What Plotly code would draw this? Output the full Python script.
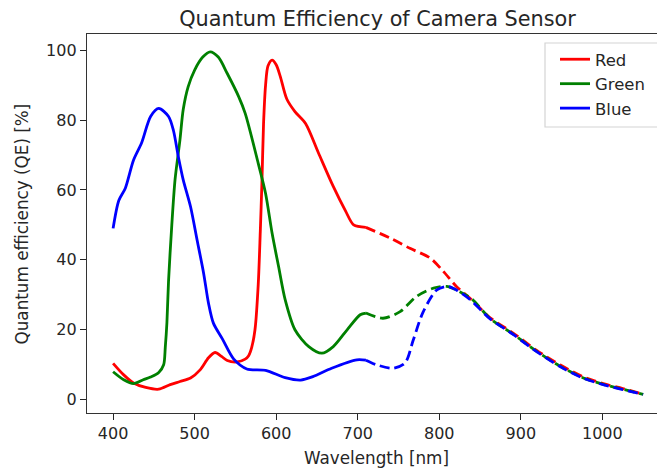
import plotly.graph_objects as go

# ---- data ----
red_wl = [400, 413, 425, 440, 456, 470, 482, 495, 507, 517, 525, 533, 540, 552, 562, 566, 570, 574,
          578, 580.5, 582.5, 584.5, 587, 590, 595, 600, 605, 613, 623, 636, 652, 670, 685, 695, 710,
          740, 764, 789, 805, 821, 842, 862, 891, 919, 948, 976, 1001, 1025, 1050]
red_qe = [10.4, 7.1, 4.8, 3.5, 3.0, 4.3, 5.2, 6.2, 8.6, 12.0, 13.5, 12.4, 11.2, 10.8, 11.6, 12.5, 15, 20,
          33, 48, 62, 79, 90, 95.5, 97.1, 95.8, 92.5, 86, 82.4, 79, 70.5, 61, 54, 50, 49.3,
          46.2, 43.3, 40.5, 36.7, 32.4, 28.1, 23.5, 19.0, 14.2, 10.0, 6.6, 4.6, 3.2, 1.6]

green_wl = [400, 413, 425, 437, 446, 456, 462, 464, 466, 468, 472, 476, 482, 486, 492, 500, 510, 519,
            529, 540, 554, 562, 578, 587, 595, 603, 611, 623, 640, 656, 670, 687, 703, 710,
            731, 752, 772, 793, 809, 825, 840, 862, 891, 919, 948, 976, 1001, 1025, 1050]
green_qe = [8, 5.7, 4.6, 5.7, 6.5, 7.8, 10, 15, 22, 34, 50, 63, 74.3, 83, 89.5, 94.3, 98, 99.5,
            98, 93.3, 86.7, 81.9, 67.6, 59, 47.6, 38, 28.6, 20, 15.2, 13.3, 15.2, 20, 24.3, 24.8,
            23.3, 25.2, 29.5, 31.9, 32.4, 30.9, 28.8, 23.3, 18.7, 13.9, 9.6, 6.3, 4.4, 3.0, 1.5]

blue_wl = [400, 407, 415, 425, 435, 446, 456, 468, 474, 480, 486, 495, 503, 511, 517, 523, 534, 548,
           564, 587, 611, 630, 645, 668, 699, 710, 723, 743, 758, 768, 780, 797, 811, 821, 838, 862,
           891, 919, 948, 976, 1001, 1025, 1050]
blue_qe = [49, 57, 60.5, 68.5, 73.5, 81, 83.3, 81, 77, 69.5, 62.9, 55.2, 45.7, 36.2, 27.6, 21.9, 17.4, 11.6,
           8.8, 8.4, 6.3, 5.6, 6.6, 9, 11.4, 11.3, 10, 9, 10.5, 17, 25, 31.4, 32.4, 31.4, 28.6, 23.2,
           18.6, 13.8, 9.5, 6.2, 4.3, 2.9, 1.5]

split_wl = 710  # solid below, dashed above
x_ticks = [400, 500, 600, 700, 800, 900, 1000]
y_ticks = [0, 20, 40, 60, 80, 100]

series = [("Red", "#ff0000", red_wl, red_qe),
          ("Green", "#008000", green_wl, green_qe),
          ("Blue", "#0000ff", blue_wl, blue_qe)]

FONT = "DejaVu Sans"
TXT = "#262626"

fig = go.Figure()
# dashed parts first (drawn under), then solid parts
for name, color, wl, qe in series:
    xs = [w for w in wl if w >= split_wl]
    ys = [q for w, q in zip(wl, qe) if w >= split_wl]
    fig.add_trace(go.Scatter(x=xs, y=ys, mode="lines", showlegend=False, hoverinfo="skip",
                             line=dict(color=color, width=2.8, dash="10px,5px",
                                       shape="spline", smoothing=0.8)))
for name, color, wl, qe in series:
    xs = [w for w in wl if w <= split_wl]
    ys = [q for w, q in zip(wl, qe) if w <= split_wl]
    fig.add_trace(go.Scatter(x=xs, y=ys, mode="lines", name=name,
                             line=dict(color=color, width=2.8, shape="spline", smoothing=0.8)))

W, H = 657, 473
L, R, T, B = 87, 0, 34, 60
pw = W - L - R
ph = H - T - B

def px_x(p):
    return (p - L) / pw

def px_y(p):
    return 1 - (p - T) / ph

fig.update_layout(
    width=W, height=H,
    margin=dict(l=L, r=R, t=T, b=B),
    paper_bgcolor="white", plot_bgcolor="white",
    font=dict(family=FONT, size=16, color=TXT),
    title=dict(text="Quantum Efficiency of Camera Sensor", x=377.5 / W, xanchor="center",
               xref="container", y=1 - 18.5 / H, yanchor="middle", yref="container",
               font=dict(size=20.8, color=TXT, family=FONT)),
    xaxis=dict(range=[368, 1067], tickvals=x_ticks, ticks="outside", ticklen=6, tickwidth=1.2,
               tickcolor=TXT, showline=True, linecolor="#333333", linewidth=1.3, mirror=True,
               showgrid=False, zeroline=False, tickfont=dict(size=16, color=TXT)),
    yaxis=dict(range=[-3.8, 104.6], tickvals=y_ticks, ticks="outside", ticklen=6, tickwidth=1.2,
               tickcolor=TXT, showline=True, linecolor="#333333", linewidth=1.3, mirror=False,
               showgrid=False, zeroline=False, tickfont=dict(size=16, color=TXT)),
    legend=dict(x=px_x(555), y=px_y(42), xanchor="left", yanchor="top",
                bgcolor="rgba(0,0,0,0)", borderwidth=0, font=dict(size=16.5, color=TXT),
                tracegroupgap=0),
    showlegend=True,
    shapes=[dict(type="rect", xref="paper", yref="paper",
                 x0=px_x(545), x1=px_x(672), y0=px_y(127), y1=px_y(43),
                 line=dict(color="#d4d4d4", width=1.2), fillcolor="white", layer="above")],
    annotations=[
        dict(text="Wavelength [nm]", xref="paper", yref="paper", x=px_x(376), y=px_y(458),
             xanchor="center", yanchor="middle", showarrow=False, font=dict(size=16.8, color=TXT)),
        dict(text="Quantum efficiency (QE) [%]", xref="paper", yref="paper", x=px_x(21.5),
             y=px_y(224), xanchor="center", yanchor="middle", textangle=-90, showarrow=False,
             font=dict(size=16.8, color=TXT)),
    ],
)

fig.write_html("out.html")
